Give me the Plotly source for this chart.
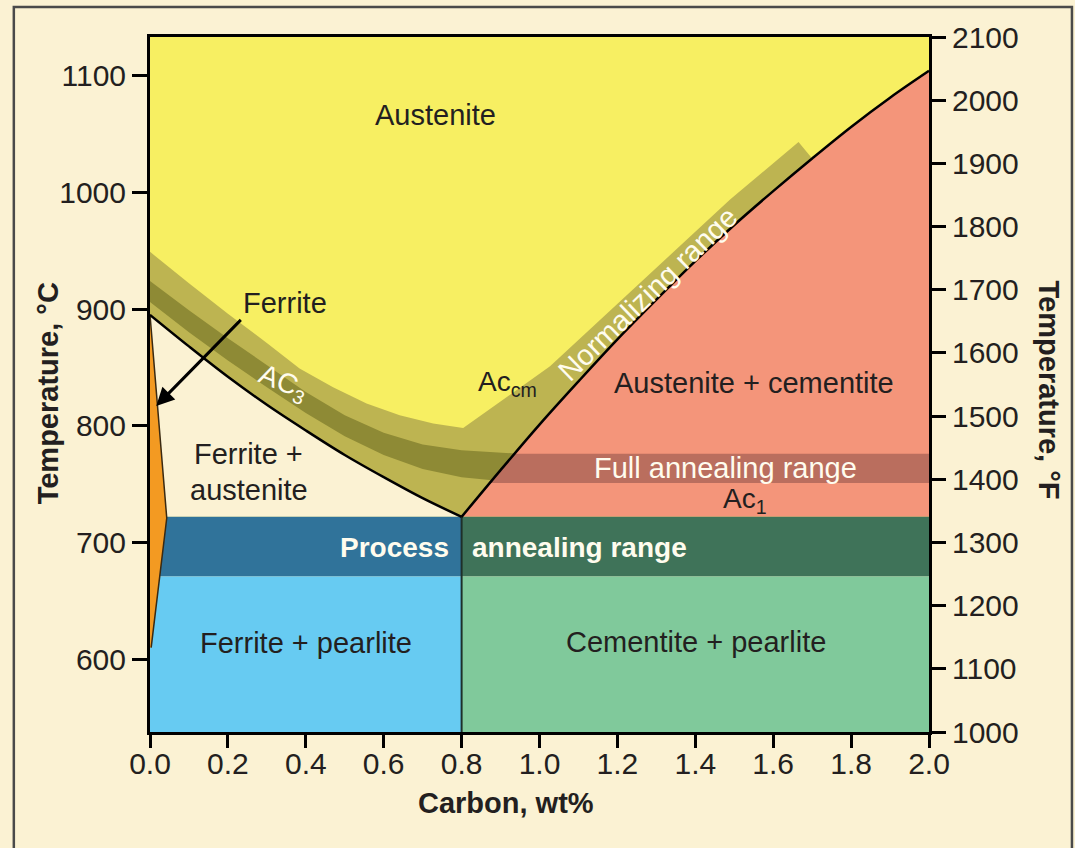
import numpy as np
import plotly.graph_objects as go

# ---------------- data ----------------
C_TICKS = [0.0, 0.2, 0.4, 0.6, 0.8, 1.0, 1.2, 1.4, 1.6, 1.8, 2.0]
TC_TICKS = [600, 700, 800, 900, 1000, 1100]
TF_TICKS = [1000, 1100, 1200, 1300, 1400, 1500, 1600, 1700, 1800, 1900, 2000, 2100]
C_RANGE = [0.0, 2.0]
TC_RANGE = [537.7, 1133.0]
TF_RANGE = [1000, 2100]

EUTECTOID_C = 0.8
EUTECTOID_T = 722
PROCESS_LOW_T = 671

# Ac3 line (ferrite+austenite / austenite)
A3_C = [0.0, 0.1, 0.2, 0.3, 0.4, 0.5, 0.6, 0.7, 0.8]
A3_T = [895, 868, 842, 818, 796, 775, 756, 738, 722]

# Acm line (austenite / austenite+cementite)
ACM_C = [0.8, 0.9, 1.0, 1.1, 1.2, 1.3, 1.4, 1.5, 1.6, 1.7, 1.8, 1.9, 2.0]
ACM_T = [722, 762, 801, 838, 874, 908, 941, 972, 1001, 1029, 1056, 1081, 1104]

# upper edge of normalizing range along Ac3 side
NORM_TOP_C = [0.0, 0.1, 0.2, 0.3, 0.384, 0.47, 0.556, 0.641, 0.727, 0.804]
NORM_TOP_T = [949, 922, 896, 871, 849, 833, 819, 809, 802, 798]
# upper edge of normalizing range along Acm side
NORM_EDGE_C = [0.804, 1.027, 1.49, 1.665]
NORM_EDGE_T = [798, 851, 994, 1043]
NORM_END_C = 1.7

# full annealing range for hypoeutectoid steels (dark stripe above Ac3)
STRIPE_C = [0.0, 0.1, 0.2, 0.3, 0.4, 0.5, 0.6, 0.7, 0.8, 0.95]
STRIPE_HI = [924, 899, 875, 852, 829, 809, 794, 784, 779, 776]
STRIPE_LO = [906, 880, 856, 833, 811, 791, 775, 763, 756, 751]

# full annealing range for hypereutectoid steels
FULL_T = [751, 776]

# ferrite wedge
FERRITE_C = [0.0, 0.043, 0.003, 0.0]
FERRITE_T = [895, 721, 610, 610]

FONT = "Liberation Sans, Arial, Helvetica, sans-serif"
FS = 29

COL_BG = "#FBF2D3"
COL_YELLOW = "#F7EF62"
COL_OLIVE = "#BDB451"
COL_DARKOLIVE = "#8E8A35"
COL_SALMON = "#F4957A"
COL_BROWN = "#BA6E5E"
COL_PBLUE = "#30739A"
COL_PGREEN = "#3F7359"
COL_LBLUE = "#67CBF2"
COL_LGREEN = "#80C99B"
COL_ORANGE = "#F39A22"
COL_TEXT = "#231F20"
COL_WHITE = "#FFFCEE"

fig = go.Figure()


def poly(xs, ys, color):
    fig.add_trace(go.Scatter(x=list(xs), y=list(ys), mode="lines", fill="toself",
                             fillcolor=color, line=dict(width=0, color=color),
                             hoverinfo="skip", showlegend=False))


def line(xs, ys, color, width, shape="linear"):
    fig.add_trace(go.Scatter(x=list(xs), y=list(ys), mode="lines",
                             line=dict(width=width, color=color, shape=shape),
                             hoverinfo="skip", showlegend=False))


x0, x1 = C_RANGE
ybot, ytop = TC_RANGE

# austenite (everything above eutectoid)
poly([x0, x1, x1, x0], [EUTECTOID_T, EUTECTOID_T, ytop, ytop], COL_YELLOW)
# ferrite + austenite
poly(A3_C + [x0], A3_T + [EUTECTOID_T], COL_BG)

# normalizing range (olive band)
acm_c = np.array(ACM_C)
acm_t = np.array(ACM_T)
mask = acm_c <= NORM_END_C + 1e-9
ol_x = A3_C + list(acm_c[mask][1:]) + NORM_EDGE_C[::-1][:-1] + NORM_TOP_C[::-1]
ol_y = A3_T + list(acm_t[mask][1:]) + NORM_EDGE_T[::-1][:-1] + NORM_TOP_T[::-1]
poly(ol_x, ol_y, COL_OLIVE)

# dark stripe
poly(STRIPE_C + STRIPE_C[::-1], STRIPE_HI + STRIPE_LO[::-1], COL_DARKOLIVE)

# austenite + cementite
poly(ACM_C + [x1], ACM_T + [EUTECTOID_T], COL_SALMON)

# full annealing range band (right of Acm)
fa_c = np.interp(FULL_T, ACM_T, ACM_C)
poly([fa_c[0], x1, x1, fa_c[1]], [FULL_T[0], FULL_T[0], FULL_T[1], FULL_T[1]], COL_BROWN)

# process annealing range
poly([x0, EUTECTOID_C, EUTECTOID_C, x0], [PROCESS_LOW_T, PROCESS_LOW_T, EUTECTOID_T, EUTECTOID_T], COL_PBLUE)
poly([EUTECTOID_C, x1, x1, EUTECTOID_C], [PROCESS_LOW_T, PROCESS_LOW_T, EUTECTOID_T, EUTECTOID_T], COL_PGREEN)
# ferrite + pearlite / cementite + pearlite
poly([x0, EUTECTOID_C, EUTECTOID_C, x0], [ybot, ybot, PROCESS_LOW_T, PROCESS_LOW_T], COL_LBLUE)
poly([EUTECTOID_C, x1, x1, EUTECTOID_C], [ybot, ybot, PROCESS_LOW_T, PROCESS_LOW_T], COL_LGREEN)

# ferrite wedge
poly(FERRITE_C, FERRITE_T, COL_ORANGE)
line(FERRITE_C[:3], FERRITE_T[:3], "#3A2A12", 1.5)

# boundary lines
line([EUTECTOID_C, EUTECTOID_C], [ybot, EUTECTOID_T], "#1E2F2A", 2)
line(A3_C, A3_T, "black", 2.5, "spline")
line(ACM_C, ACM_T, "black", 2.5, "spline")

# invisible trace so that the Fahrenheit axis is drawn
fig.add_trace(go.Scatter(x=C_RANGE, y=TF_RANGE, yaxis="y2", mode="markers",
                         marker=dict(opacity=0), hoverinfo="skip", showlegend=False))

# ---------------- annotations ----------------
def label(x, y, text, color=COL_TEXT, size=FS, angle=0, bold=False, xanchor="center"):
    if bold:
        text = "<b>" + text + "</b>"
    fig.add_annotation(x=x, y=y, xref="x", yref="y", text=text, showarrow=False,
                       textangle=angle, xanchor=xanchor, yanchor="middle",
                       font=dict(family=FONT, size=size, color=color))


label(0.734, 1066, "Austenite")
label(0.346, 905, "Ferrite")
label(0.253, 776, "Ferrite +")
label(0.253, 745, "austenite")
label(0.341, 836, "AC<sub>3</sub>", color=COL_WHITE, size=28, angle=22)
label(0.919, 836, "Ac<sub>cm</sub>", size=28)
label(1.277, 913, "Normalizing range", color=COL_WHITE, size=29, angle=-44)
label(1.551, 837, "Austenite + cementite")
label(1.478, 764, "Full annealing range", color=COL_WHITE)
label(1.528, 736, "Ac<sub>1</sub>", size=28)
label(0.773, 696, "Process", color=COL_WHITE, size=28, bold=True, xanchor="right")
label(0.821, 696, "annealing range", color=COL_WHITE, size=28, bold=True, xanchor="left")
label(0.40, 614, "Ferrite + pearlite")
label(1.402, 615, "Cementite + pearlite")

# arrow from "Ferrite" to the ferrite wedge
fig.add_annotation(x=0.016, y=817, ax=0.237, ay=892, xref="x", yref="y",
                   axref="x", ayref="y", text="", showarrow=True,
                   arrowhead=2, arrowsize=1.2, arrowwidth=3, arrowcolor="black")

# axis titles
fig.add_annotation(x=-0.1316, y=0.488, xref="paper", yref="paper",
                   xanchor="center", yanchor="middle",
                   text="<b>Temperature, °C</b>", showarrow=False, textangle=-90,
                   font=dict(family=FONT, size=FS, color=COL_TEXT))
fig.add_annotation(x=1.1534, y=0.492, xref="paper", yref="paper",
                   xanchor="center", yanchor="middle",
                   text="<b>Temperature, °F</b>", showarrow=False, textangle=90,
                   font=dict(family=FONT, size=FS, color=COL_TEXT))
fig.add_annotation(x=0.457, y=-0.102, xref="paper", yref="paper",
                   xanchor="center", yanchor="middle",
                   text="<b>Carbon, wt%</b>", showarrow=False,
                   font=dict(family=FONT, size=FS, color=COL_TEXT))

# outer picture frame
fig.add_shape(type="rect", xref="paper", yref="paper",
              x0=-0.1748, x1=1.1835, y0=-0.2, y1=1.0432,
              line=dict(color="#4A4A4A", width=2.5), fillcolor="rgba(0,0,0,0)", layer="below")

axis_common = dict(showgrid=False, zeroline=False, ticks="outside", tickcolor="black",
                   tickwidth=2.5, showline=True, linecolor="black", linewidth=3,
                   tickfont=dict(family=FONT, size=30, color=COL_TEXT))

fig.update_layout(
    width=1075, height=848,
    margin=dict(l=150, r=146, t=37, b=116, pad=0),
    paper_bgcolor=COL_BG, plot_bgcolor=COL_BG,
    showlegend=False,
    xaxis=dict(range=C_RANGE, tickvals=C_TICKS, ticktext=[f"{v:.1f}" for v in C_TICKS],
               ticklen=13, mirror=True, ticklabelstandoff=-10, **axis_common),
    yaxis=dict(range=TC_RANGE, tickvals=TC_TICKS, ticklen=15, **axis_common),
    yaxis2=dict(range=TF_RANGE, tickvals=TF_TICKS, ticklen=14, overlaying="y",
                side="right", **axis_common),
)

fig.write_html("out.html", config={"displayModeBar": False},
               post_script="document.body.style.margin='0';document.body.style.overflow='hidden';")
